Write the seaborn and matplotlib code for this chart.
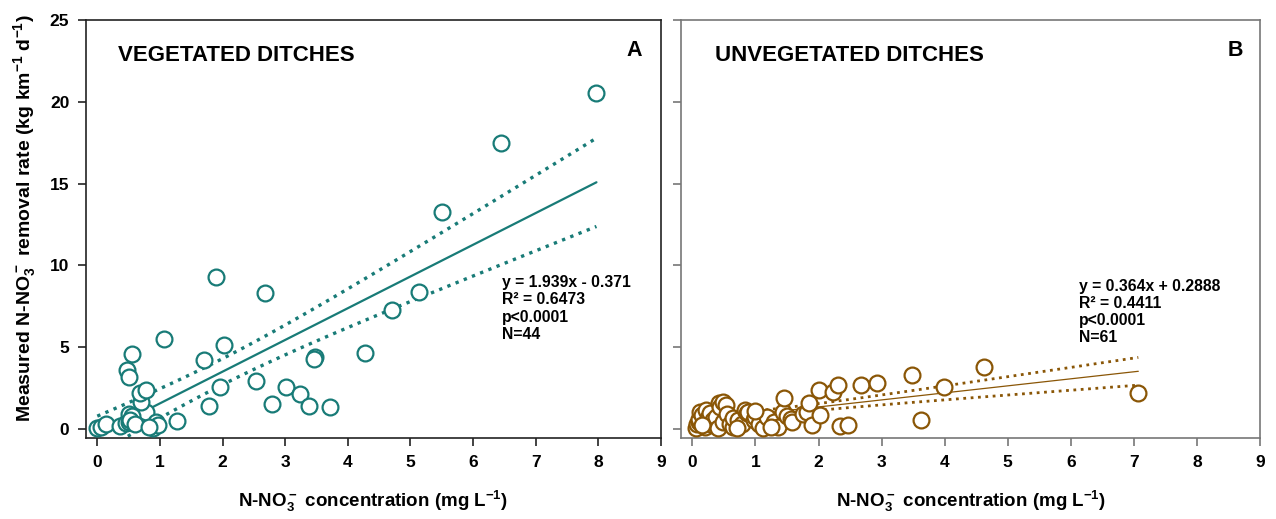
import numpy as np
import pandas as pd
import matplotlib
matplotlib.use("Agg")
import matplotlib.pyplot as plt
import seaborn as sns

# panel A - vegetated ditches (N=44)
veg_x = [0.00, 0.06, 0.14, 0.36, 0.46, 0.50, 0.54, 0.51, 0.77, 0.70, 0.68, 0.78,
         0.89, 0.94, 0.97, 1.27, 0.48, 0.51, 0.55, 1.06, 1.71, 1.78, 1.90, 1.96,
         2.03, 2.53, 2.67, 2.79, 3.02, 3.24, 3.38, 3.47, 3.46, 3.71, 4.28, 4.70,
         5.13, 5.50, 6.44, 7.97, 0.56, 0.52, 0.60, 0.83]
veg_y = [0.04, 0.14, 0.29, 0.18, 0.35, 0.45, 0.65, 0.92, 1.06, 1.67, 2.22, 2.38,
         0.04, 0.45, 0.24, 0.51, 3.60, 3.18, 4.58, 5.52, 4.22, 1.41, 9.27, 2.59,
         5.13, 2.95, 8.29, 1.51, 2.55, 2.14, 1.41, 4.38, 4.30, 1.36, 4.67, 7.27,
         8.37, 13.24, 17.46, 20.56, 0.80, 0.55, 0.30, 0.10]

# panel B - unvegetated ditches (N=61)
unveg_x = [0.05, 0.08, 0.10, 0.11, 0.12, 0.16, 0.20, 0.22, 0.25, 0.28, 0.32, 0.33,
           0.38, 0.40, 0.43, 0.44, 0.48, 0.48, 0.54, 0.55, 0.60, 0.64, 0.65, 0.72,
           0.78, 0.84, 0.86, 0.89, 0.97, 0.99, 1.05, 1.12, 1.18, 1.30, 1.36, 1.44,
           1.45, 1.50, 1.57, 1.58, 1.75, 1.81, 1.85, 1.89, 2.01, 2.02, 2.23, 2.31,
           2.34, 2.47, 2.67, 2.92, 3.48, 3.63, 3.99, 4.63, 7.07, 0.70, 1.00, 0.15,
           1.25]
unveg_y = [0.04, 0.30, 0.45, 0.60, 1.06, 0.86, 0.15, 1.16, 0.70, 1.00, 0.24, 0.55,
           0.75, 0.05, 1.61, 1.36, 1.67, 0.45, 1.47, 0.90, 0.30, 0.10, 0.65, 0.55,
           0.30, 1.16, 0.95, 1.06, 0.55, 0.75, 0.30, 0.04, 0.71, 0.40, 0.10, 1.06,
           1.88, 0.80, 0.59, 0.45, 0.90, 1.06, 1.57, 0.24, 2.38, 0.86, 2.28, 2.69,
           0.18, 0.24, 2.69, 2.79, 3.30, 0.55, 2.55, 3.81, 2.22, 0.05, 1.10, 0.25,
           0.15]

# drawn fit lines (slope, intercept)
veg_fit = [1.939, -0.371]
unveg_fit = [0.43, 0.49]

veg_txt = "y = 1.939x - 0.371\nR² = 0.6473\np<0.0001\nN=44"
unveg_txt = "y = 0.364x + 0.2888\nR² = 0.4411\np<0.0001\nN=61"

teal = "#187b77"
brown = "#8a5606"

sns.set_style("ticks")
plt.rcParams["font.family"] = ["Liberation Sans", "DejaVu Sans"]
plt.rcParams["font.weight"] = "bold"
plt.rcParams["text.color"] = "black"
plt.rcParams["axes.labelcolor"] = "black"
plt.rcParams["mathtext.fontset"] = "custom"
plt.rcParams["mathtext.rm"] = "Liberation Sans:bold"
plt.rcParams["mathtext.bf"] = "Liberation Sans:bold"
plt.rcParams["mathtext.default"] = "bf"


def conf_band(x, y, fit, xs):
    x = np.asarray(x)
    y = np.asarray(y)
    n = len(x)
    resid = y - (fit[0] * x + fit[1])
    s = np.sqrt(np.sum(resid ** 2) / (n - 2))
    sxx = np.sum((x - x.mean()) ** 2)
    half = 2.0 * s * np.sqrt(1 / n + (xs - x.mean()) ** 2 / sxx)
    mid = fit[0] * xs + fit[1]
    return mid, mid - half, mid + half


def panel(ax, x, y, fit, color, lw, dot_lw, spine_col):
    xs = np.linspace(0, max(x), 100)
    mid, lo, hi = conf_band(x, y, fit, xs)
    sns.lineplot(x=xs, y=mid, ax=ax, color=color, lw=lw, zorder=2)
    sns.lineplot(x=xs, y=lo, ax=ax, color=color, lw=dot_lw, ls=":", zorder=2)
    sns.lineplot(x=xs, y=hi, ax=ax, color=color, lw=dot_lw, ls=":", zorder=2)
    df = pd.DataFrame({"x": x, "y": y})
    sns.scatterplot(data=df, x="x", y="y", ax=ax, s=130, color="white",
                    edgecolor=color, linewidth=1.6, zorder=3, clip_on=False)
    ax.set_xlim(-0.18, 9.0)
    ax.set_ylim(-0.55, 25)
    ax.set_xticks(range(0, 10))
    ax.set_yticks(range(0, 26, 5))
    for sp in ax.spines.values():
        sp.set_color(spine_col)
        sp.set_linewidth(1.2)
    ax.tick_params(direction="out", length=6, width=1.2, color=spine_col,
                   labelcolor="black", labelsize=12.5, pad=6)
    ax.set_xlabel(r"N-NO$_3^-$ concentration (mg L$^{-1}$)", fontsize=13.5,
                  fontweight="bold", labelpad=14)


fig = plt.figure(figsize=(12.76, 5.19), dpi=100)
ax1 = fig.add_axes([0.0674, 0.156, 0.4506, 0.8054])
ax2 = fig.add_axes([0.5337, 0.156, 0.4538, 0.8054])

panel(ax1, veg_x, veg_y, veg_fit, teal, 1.6, 2.4, "#222222")
panel(ax2, unveg_x, unveg_y, unveg_fit, brown, 0.9, 2.0, "#777777")

ax1.set_ylabel(r"Measured N-NO$_3^-$ removal rate (kg km$^{-1}$ d$^{-1}$)",
               fontsize=14, fontweight="bold")
ax1.yaxis.set_label_coords(-0.083, 0.525)
ax2.set_ylabel("")
ax2.set_yticklabels([])

ax1.text(0.056, 0.916, "VEGETATED DITCHES", transform=ax1.transAxes,
         fontsize=16, fontweight="bold", va="center")
ax1.text(0.953, 0.928, "A", transform=ax1.transAxes, fontsize=15.5,
         fontweight="bold", ha="center", va="center")
ax2.text(0.059, 0.916, "UNVEGETATED DITCHES", transform=ax2.transAxes,
         fontsize=16, fontweight="bold", va="center")
ax2.text(0.958, 0.928, "B", transform=ax2.transAxes, fontsize=15.5,
         fontweight="bold", ha="center", va="center")

ax1.text(6.46, 9.4, veg_txt, fontsize=11.3, fontweight="bold", va="top",
         linespacing=1.18)
ax2.text(6.13, 9.17, unveg_txt, fontsize=11.3, fontweight="bold", va="top",
         linespacing=1.18)

fig.savefig("out.png", dpi=100)
